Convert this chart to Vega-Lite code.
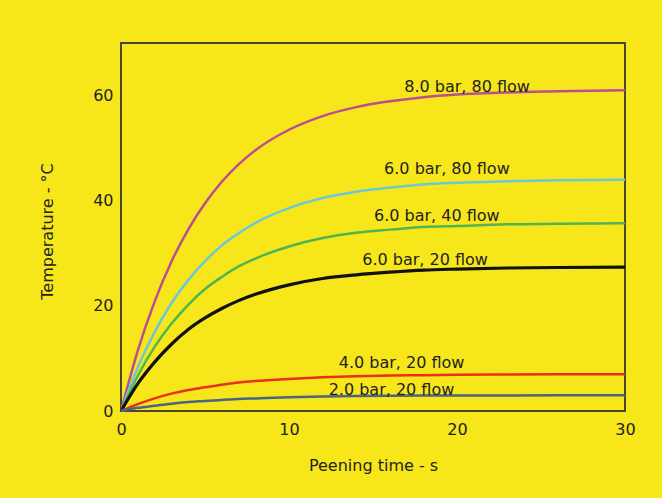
{
  "$schema": "https://vega.github.io/schema/vega-lite/v6.json",
  "width": 504,
  "height": 368,
  "autosize": {"type": "none"},
  "padding": {"left": 121, "top": 43, "right": 37, "bottom": 87},
  "background": "#f7e71a",
  "config": {
    "view": {"stroke": "#4a4630", "strokeWidth": 2, "fill": "#f7e71a"},
    "font": "DejaVu Sans",
    "axis": {"grid": false, "ticks": false, "domain": false, "labelFlush": false, "labelFont": "DejaVu Sans", "labelFontSize": 16, "labelColor": "#222222", "titleFont": "DejaVu Sans", "titleFontSize": 16, "titleFontWeight": "normal", "titleColor": "#222222"}
  },
  "datasets": {
    "curves": [
      {"s":"8.0 bar, 80 flow","t":0,"v":0},{"s":"8.0 bar, 80 flow","t":1,"v":11.5},{"s":"8.0 bar, 80 flow","t":2,"v":20.8},{"s":"8.0 bar, 80 flow","t":3,"v":28.4},{"s":"8.0 bar, 80 flow","t":4,"v":34.5},{"s":"8.0 bar, 80 flow","t":5,"v":39.5},{"s":"8.0 bar, 80 flow","t":6,"v":43.6},{"s":"8.0 bar, 80 flow","t":7,"v":46.9},{"s":"8.0 bar, 80 flow","t":8,"v":49.6},{"s":"8.0 bar, 80 flow","t":10,"v":53.5},{"s":"8.0 bar, 80 flow","t":12,"v":56.1},{"s":"8.0 bar, 80 flow","t":14,"v":57.8},{"s":"8.0 bar, 80 flow","t":16,"v":58.9},{"s":"8.0 bar, 80 flow","t":18,"v":59.7},{"s":"8.0 bar, 80 flow","t":20,"v":60.2},{"s":"8.0 bar, 80 flow","t":23,"v":60.6},{"s":"8.0 bar, 80 flow","t":26,"v":60.8},{"s":"8.0 bar, 80 flow","t":30,"v":61.0},
      {"s":"6.0 bar, 80 flow","t":0,"v":0},{"s":"6.0 bar, 80 flow","t":1,"v":8.3},{"s":"6.0 bar, 80 flow","t":2,"v":15.0},{"s":"6.0 bar, 80 flow","t":3,"v":20.5},{"s":"6.0 bar, 80 flow","t":4,"v":24.9},{"s":"6.0 bar, 80 flow","t":5,"v":28.5},{"s":"6.0 bar, 80 flow","t":6,"v":31.5},{"s":"6.0 bar, 80 flow","t":7,"v":33.8},{"s":"6.0 bar, 80 flow","t":8,"v":35.8},{"s":"6.0 bar, 80 flow","t":10,"v":38.6},{"s":"6.0 bar, 80 flow","t":12,"v":40.5},{"s":"6.0 bar, 80 flow","t":14,"v":41.7},{"s":"6.0 bar, 80 flow","t":16,"v":42.5},{"s":"6.0 bar, 80 flow","t":18,"v":43.1},{"s":"6.0 bar, 80 flow","t":20,"v":43.4},{"s":"6.0 bar, 80 flow","t":23,"v":43.7},{"s":"6.0 bar, 80 flow","t":26,"v":43.9},{"s":"6.0 bar, 80 flow","t":30,"v":44.0},
      {"s":"6.0 bar, 40 flow","t":0,"v":0},{"s":"6.0 bar, 40 flow","t":1,"v":6.7},{"s":"6.0 bar, 40 flow","t":2,"v":12.2},{"s":"6.0 bar, 40 flow","t":3,"v":16.6},{"s":"6.0 bar, 40 flow","t":4,"v":20.2},{"s":"6.0 bar, 40 flow","t":5,"v":23.2},{"s":"6.0 bar, 40 flow","t":6,"v":25.5},{"s":"6.0 bar, 40 flow","t":7,"v":27.5},{"s":"6.0 bar, 40 flow","t":8,"v":29.0},{"s":"6.0 bar, 40 flow","t":10,"v":31.3},{"s":"6.0 bar, 40 flow","t":12,"v":32.9},{"s":"6.0 bar, 40 flow","t":14,"v":33.9},{"s":"6.0 bar, 40 flow","t":16,"v":34.5},{"s":"6.0 bar, 40 flow","t":18,"v":35.0},{"s":"6.0 bar, 40 flow","t":20,"v":35.2},{"s":"6.0 bar, 40 flow","t":23,"v":35.5},{"s":"6.0 bar, 40 flow","t":26,"v":35.6},{"s":"6.0 bar, 40 flow","t":30,"v":35.7},
      {"s":"6.0 bar, 20 flow","t":0,"v":0},{"s":"6.0 bar, 20 flow","t":1,"v":5.2},{"s":"6.0 bar, 20 flow","t":2,"v":9.3},{"s":"6.0 bar, 20 flow","t":3,"v":12.7},{"s":"6.0 bar, 20 flow","t":4,"v":15.5},{"s":"6.0 bar, 20 flow","t":5,"v":17.7},{"s":"6.0 bar, 20 flow","t":6,"v":19.5},{"s":"6.0 bar, 20 flow","t":7,"v":21.0},{"s":"6.0 bar, 20 flow","t":8,"v":22.2},{"s":"6.0 bar, 20 flow","t":10,"v":24.0},{"s":"6.0 bar, 20 flow","t":12,"v":25.2},{"s":"6.0 bar, 20 flow","t":14,"v":25.9},{"s":"6.0 bar, 20 flow","t":16,"v":26.4},{"s":"6.0 bar, 20 flow","t":18,"v":26.8},{"s":"6.0 bar, 20 flow","t":20,"v":27.0},{"s":"6.0 bar, 20 flow","t":23,"v":27.2},{"s":"6.0 bar, 20 flow","t":26,"v":27.3},{"s":"6.0 bar, 20 flow","t":30,"v":27.35},
      {"s":"4.0 bar, 20 flow","t":0,"v":0},{"s":"4.0 bar, 20 flow","t":1,"v":1.3},{"s":"4.0 bar, 20 flow","t":2,"v":2.4},{"s":"4.0 bar, 20 flow","t":3,"v":3.3},{"s":"4.0 bar, 20 flow","t":4,"v":4.0},{"s":"4.0 bar, 20 flow","t":5,"v":4.5},{"s":"4.0 bar, 20 flow","t":6,"v":5.0},{"s":"4.0 bar, 20 flow","t":7,"v":5.4},{"s":"4.0 bar, 20 flow","t":8,"v":5.7},{"s":"4.0 bar, 20 flow","t":10,"v":6.1},{"s":"4.0 bar, 20 flow","t":12,"v":6.4},{"s":"4.0 bar, 20 flow","t":14,"v":6.6},{"s":"4.0 bar, 20 flow","t":16,"v":6.75},{"s":"4.0 bar, 20 flow","t":18,"v":6.8},{"s":"4.0 bar, 20 flow","t":20,"v":6.9},{"s":"4.0 bar, 20 flow","t":23,"v":6.94},{"s":"4.0 bar, 20 flow","t":26,"v":6.97},{"s":"4.0 bar, 20 flow","t":30,"v":7.0},
      {"s":"2.0 bar, 20 flow","t":0,"v":0},{"s":"2.0 bar, 20 flow","t":1,"v":0.6},{"s":"2.0 bar, 20 flow","t":2,"v":1.0},{"s":"2.0 bar, 20 flow","t":3,"v":1.4},{"s":"2.0 bar, 20 flow","t":4,"v":1.7},{"s":"2.0 bar, 20 flow","t":5,"v":1.9},{"s":"2.0 bar, 20 flow","t":6,"v":2.1},{"s":"2.0 bar, 20 flow","t":7,"v":2.3},{"s":"2.0 bar, 20 flow","t":8,"v":2.4},{"s":"2.0 bar, 20 flow","t":10,"v":2.6},{"s":"2.0 bar, 20 flow","t":12,"v":2.75},{"s":"2.0 bar, 20 flow","t":14,"v":2.84},{"s":"2.0 bar, 20 flow","t":16,"v":2.9},{"s":"2.0 bar, 20 flow","t":18,"v":2.93},{"s":"2.0 bar, 20 flow","t":20,"v":2.95},{"s":"2.0 bar, 20 flow","t":23,"v":2.97},{"s":"2.0 bar, 20 flow","t":26,"v":2.99},{"s":"2.0 bar, 20 flow","t":30,"v":3.0}
    ],
    "labels": [
      {"label":"8.0 bar, 80 flow","t":20.6,"v":61.7},
      {"label":"6.0 bar, 80 flow","t":19.4,"v":46.1},
      {"label":"6.0 bar, 40 flow","t":18.8,"v":37.0},
      {"label":"6.0 bar, 20 flow","t":18.1,"v":28.8},
      {"label":"4.0 bar, 20 flow","t":16.7,"v":9.2},
      {"label":"2.0 bar, 20 flow","t":16.1,"v":4.0}
    ]
  },
  "layer": [
    {
      "data": {"name": "curves"},
      "mark": {"type": "line", "interpolate": "monotone", "strokeWidth": 2.5},
      "encoding": {
        "x": {"field": "t", "type": "quantitative", "scale": {"domain": [0, 30]}, "axis": {"values": [0, 10, 20, 30], "labelPadding": 10, "title": "Peening time - s", "titlePadding": 20}},
        "y": {"field": "v", "type": "quantitative", "scale": {"domain": [0, 70]}, "axis": {"values": [0, 20, 40, 60], "labelPadding": 8, "title": "Temperature -  °C", "titlePadding": 37, "titleY": 188}},
        "color": {"field": "s", "type": "nominal", "legend": null,
          "scale": {"domain": ["8.0 bar, 80 flow", "6.0 bar, 80 flow", "6.0 bar, 40 flow", "6.0 bar, 20 flow", "4.0 bar, 20 flow", "2.0 bar, 20 flow"],
                    "range": ["#b85090", "#6cc8d8", "#50b450", "#111111", "#e8301a", "#4a6488"]}},
        "size": {"condition": {"test": "datum.s === '6.0 bar, 20 flow'", "value": 3.2}, "value": 2.5}
      }
    },
    {
      "data": {"name": "labels"},
      "mark": {"type": "text", "font": "DejaVu Sans", "fontSize": 16, "color": "#222222", "align": "center", "baseline": "middle"},
      "encoding": {
        "x": {"field": "t", "type": "quantitative"},
        "y": {"field": "v", "type": "quantitative"},
        "text": {"field": "label"}
      }
    }
  ]
}
